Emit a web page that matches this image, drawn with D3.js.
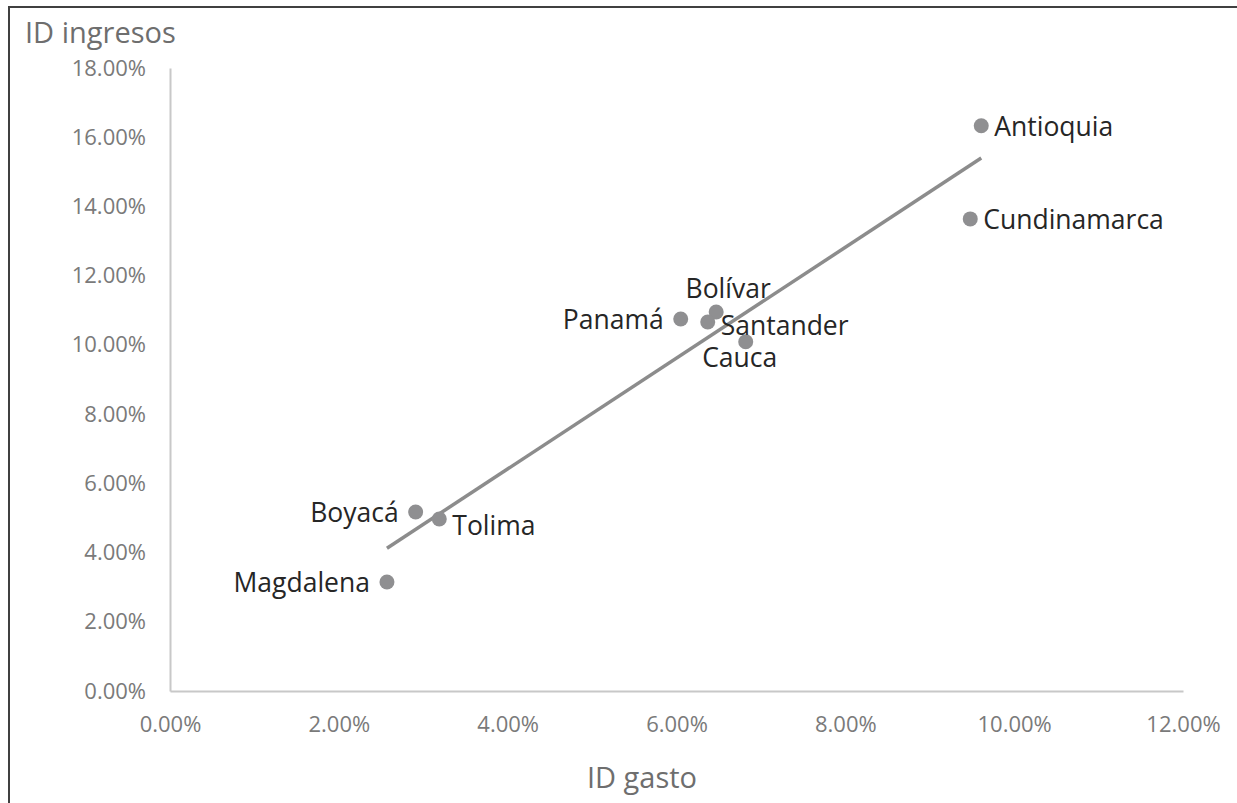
<!DOCTYPE html>
<html>
<head>
<meta charset="utf-8">
<script src="https://cdn.jsdelivr.net/npm/d3@7/dist/d3.min.js"></script>
<style>
  html, body { margin: 0; padding: 0; background: #fff; }
  svg { display: block; }
  text { font-family: "Open Sans", "Liberation Sans", sans-serif; }
</style>
</head>
<body>
<svg id="chart" width="1237" height="803"></svg>
<script>
// Department names and their indicator values (fractions)
const departments = ["Antioquia", "Cundinamarca", "Bolívar", "Santander", "Panamá", "Cauca", "Boyacá", "Tolima", "Magdalena"];
const gasto    = [0.0961, 0.0948, 0.0647, 0.0637, 0.0605, 0.0682, 0.0291, 0.0319, 0.0257];
const ingresos = [0.1633, 0.1364, 0.1095, 0.1066, 0.1075, 0.1009, 0.0517, 0.0497, 0.0315];

// Axis ticks
const xTicks = [0, 0.02, 0.04, 0.06, 0.08, 0.10, 0.12];
const yTicks = [0, 0.02, 0.04, 0.06, 0.08, 0.10, 0.12, 0.14, 0.16, 0.18];

// Where each data label sits relative to its marker
const labelSide = ["right", "right", "above", "right", "left", "below", "left", "right", "left"];
const labelNudge = [[0, 0], [0, 0], [12, 0], [0, 3], [0, 0], [-6, 0], [0, 0], [0, 6], [0, 0]];

const svg = d3.select("#chart");
const W = 1237, H = 803;

// Outer frame
svg.append("rect")
  .attr("x", 9).attr("y", 7)
  .attr("width", W + 20).attr("height", H + 20)
  .attr("fill", "#fff").attr("stroke", "#404040").attr("stroke-width", 2);

const plot = { left: 170, right: 1183, top: 68, bottom: 691 };

const x = d3.scaleLinear().domain([0, 0.12]).range([plot.left, plot.right]);
const y = d3.scaleLinear().domain([0, 0.18]).range([plot.bottom, plot.top]);
const fmt = d3.format(".2%");

// X axis
const xAxis = svg.append("g")
  .attr("transform", `translate(0,${plot.bottom})`)
  .call(d3.axisBottom(x).tickValues(xTicks).tickFormat(fmt).tickSize(0).tickPadding(25));
xAxis.select(".domain").attr("stroke", "#c8c8c8").attr("stroke-width", 2);
xAxis.selectAll("text")
  .attr("fill", "#7a7a7a").attr("font-size", 22)
  .attr("font-family", "'Open Sans', sans-serif");

// Y axis
const yAxis = svg.append("g")
  .attr("transform", `translate(${plot.left},0)`)
  .call(d3.axisLeft(y).tickValues(yTicks).tickFormat(fmt).tickSize(0).tickPadding(24));
yAxis.select(".domain").attr("stroke", "#c8c8c8").attr("stroke-width", 2);
yAxis.selectAll("text")
  .attr("fill", "#7a7a7a").attr("font-size", 22)
  .attr("font-family", "'Open Sans', sans-serif");

// Axis titles
svg.append("text")
  .attr("x", 25).attr("y", 43)
  .attr("fill", "#6e6e6e").attr("font-size", 29)
  .text("ID ingresos");
svg.append("text")
  .attr("x", 642).attr("y", 788)
  .attr("text-anchor", "middle")
  .attr("fill", "#6e6e6e").attr("font-size", 29)
  .text("ID gasto");

// Least-squares linear trendline over the data range
const n = gasto.length;
const mx = d3.mean(gasto), my = d3.mean(ingresos);
let sxy = 0, sxx = 0;
for (let i = 0; i < n; i++) {
  sxy += (gasto[i] - mx) * (ingresos[i] - my);
  sxx += (gasto[i] - mx) * (gasto[i] - mx);
}
const slope = sxy / sxx, intercept = my - slope * mx;
const [x0, x1] = d3.extent(gasto);
svg.append("line")
  .attr("x1", x(x0)).attr("y1", y(intercept + slope * x0))
  .attr("x2", x(x1)).attr("y2", y(intercept + slope * x1))
  .attr("stroke", "#8c8c8c").attr("stroke-width", 3.5);

// Markers
const idx = d3.range(n);
svg.append("g").selectAll("circle")
  .data(idx).join("circle")
  .attr("cx", i => x(gasto[i]))
  .attr("cy", i => y(ingresos[i]))
  .attr("r", 7.5)
  .attr("fill", "#8f8f91");

// Data labels
svg.append("g").selectAll("text")
  .data(idx).join("text")
  .attr("font-size", 26.5)
  .attr("fill", "#262626")
  .attr("dominant-baseline", "central")
  .each(function (i) {
    const cx = x(gasto[i]), cy = y(ingresos[i]);
    const [nx, ny] = labelNudge[i];
    let tx = cx, ty = cy, anchor = "middle";
    if (labelSide[i] === "right") { tx = cx + 13; anchor = "start"; }
    if (labelSide[i] === "left")  { tx = cx - 17; anchor = "end"; }
    if (labelSide[i] === "above") { ty = cy - 24; }
    if (labelSide[i] === "below") { ty = cy + 15; }
    d3.select(this)
      .attr("x", tx + nx).attr("y", ty + ny)
      .attr("text-anchor", anchor)
      .text(departments[i]);
  });
</script>
</body>
</html>
